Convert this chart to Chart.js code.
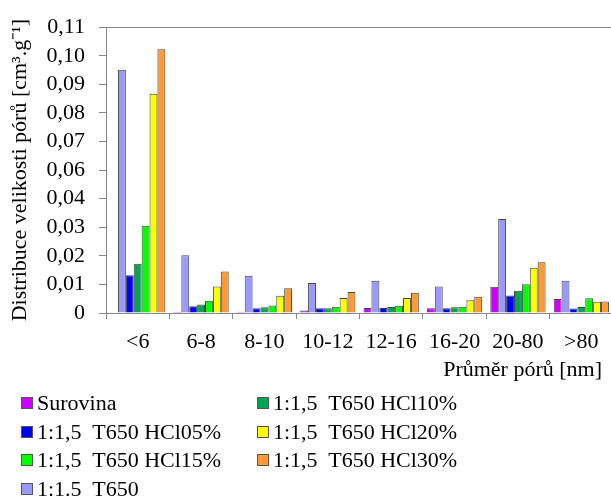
<!DOCTYPE html>
<html>
<head>
<meta charset="utf-8">
<script src="https://cdn.jsdelivr.net/npm/chart.js@4/dist/chart.umd.min.js"></script>
<style>
    html, body { margin: 0; padding: 0; background: #fff; overflow: hidden; }
    #wrap { position: relative; width: 611px; height: 497px; overflow: hidden; }
    #pores-chart { position: absolute; left: 0; top: 0; }
    #legend { position: absolute; left: 0; top: 389px; width: 611px; font-family: 'Liberation Serif', 'Times New Roman', serif; font-size: 22px; color: #000; }
    .leg-item { position: absolute; height: 28px; line-height: 28px; white-space: pre; }
    .leg-box { display: inline-block; width: 10px; height: 10px; border: 1px solid #555; margin-right: 4px; vertical-align: 1px; }
</style>
</head>
<body>
<div id="wrap">
    <canvas id="pores-chart" width="616" height="497"></canvas>
    <div id="legend"></div>
</div>
<script>
const categories = ['<6', '6-8', '8-10', '10-12', '12-16', '16-20', '20-80', '>80'];
const seriesNames = ['Surovina', '1:1.5  T650', '1:1,5  T650 HCl05%', '1:1,5  T650 HCl10%', '1:1,5  T650 HCl15%', '1:1,5  T650 HCl20%', '1:1,5  T650 HCl30%'];
const surovina = [0.0002, 0.0005, 0.0005, 0.0010, 0.0019, 0.0018, 0.0101, 0.0054];
const t650 = [0.0936, 0.0222, 0.0143, 0.0115, 0.0124, 0.0102, 0.0362, 0.0124];
const hcl05 = [0.0145, 0.0026, 0.0018, 0.0018, 0.0019, 0.0018, 0.0067, 0.0017];
const hcl10 = [0.0190, 0.0033, 0.0022, 0.0018, 0.0023, 0.0022, 0.0086, 0.0023];
const hcl15 = [0.0336, 0.0047, 0.0029, 0.0024, 0.0028, 0.0024, 0.0111, 0.0057];
const hcl20 = [0.0844, 0.0102, 0.0066, 0.0058, 0.0058, 0.0049, 0.0174, 0.0043];
const hcl30 = [0.1015, 0.0160, 0.0095, 0.0081, 0.0078, 0.0063, 0.0195, 0.0044];
const yTickLabels = ['0', '0,01', '0,02', '0,03', '0,04', '0,06', '0,07', '0,08', '0,09', '0,10', '0,11'];
const yStep = 0.011;
const yMax = 0.11;

const colors = ['#cc00ff', '#9999ff', '#0000ff', '#00a550', '#00ff00', '#ffff00', '#ff9933'];
// legend is two columns, read down: [column, row, dataset index]
const legendSlots = [[0, 0, 0], [0, 1, 2], [0, 2, 4], [0, 3, 1], [1, 0, 3], [1, 1, 5], [1, 2, 6]];

document.addEventListener('DOMContentLoaded', function () {
    Chart.defaults.font.family = "'Liberation Serif', 'Times New Roman', serif";
    Chart.defaults.font.size = 22;
    Chart.defaults.color = '#000';

    let allValues = [surovina, t650, hcl05, hcl10, hcl15, hcl20, hcl30];
    let datasets = allValues.map(function (vals, i) {
        return {
            label: seriesNames[i],
            data: vals,
            backgroundColor: colors[i],
            borderColor: '#444',
            borderWidth: 1,
        };
    });

    let ctx = document.getElementById('pores-chart').getContext('2d');
    let poresChart = new Chart(ctx, {
        type: 'bar',
        data: { labels: categories, datasets: datasets },
        options: {
            responsive: false,
            animation: false,
            devicePixelRatio: 1,
            layout: { padding: { top: 22, right: 3, bottom: 114, left: 0 } },
            datasets: { bar: { categoryPercentage: 0.872, barPercentage: 1 } },
            plugins: { legend: { display: false }, tooltip: { enabled: false } },
            scales: {
                x: {
                    grid: { drawOnChartArea: false, tickLength: 6, tickColor: '#888', offset: true },
                    border: { color: '#888', width: 1 },
                    ticks: { padding: 10, maxRotation: 0, autoSkip: false },
                    title: { display: true, text: 'Průměr pórů [nm]\u2002', align: 'end', padding: { top: 2, bottom: 0 } },
                    afterFit: function (scale) { scale.height = 70; },
                },
                y: {
                    min: 0,
                    max: yMax,
                    grid: {
                        color: function (c) { return c.tick && Math.abs(c.tick.value - yMax) < 1e-9 ? '#888' : 'rgba(0,0,0,0)'; },
                        tickColor: '#888',
                        tickLength: 7,
                    },
                    border: { color: '#888', width: 1 },
                    afterBuildTicks: function (scale) {
                        scale.ticks = yTickLabels.map(function (l, i) { return { value: i * yStep }; });
                    },
                    ticks: {
                        padding: 14,
                        autoSkip: false,
                        callback: function (value, index) { return yTickLabels[index]; },
                    },
                    title: { display: true, text: 'Distribuce velikosti pórů [cm³.g⁻¹]', padding: { top: 7, bottom: 0 } },
                    afterFit: function (scale) { scale.width = 106; },
                },
            },
        },
    });

    let legend = document.getElementById('legend');
    legendSlots.forEach(function (slot) {
        let item = document.createElement('div');
        item.className = 'leg-item';
        item.style.left = (slot[0] === 0 ? 21 : 257) + 'px';
        item.style.top = (slot[1] * 28.5) + 'px';
        let box = document.createElement('span');
        box.className = 'leg-box';
        box.style.background = colors[slot[2]];
        item.appendChild(box);
        item.appendChild(document.createTextNode(seriesNames[slot[2]]));
        legend.appendChild(item);
    });
});
</script>
</body>
</html>
